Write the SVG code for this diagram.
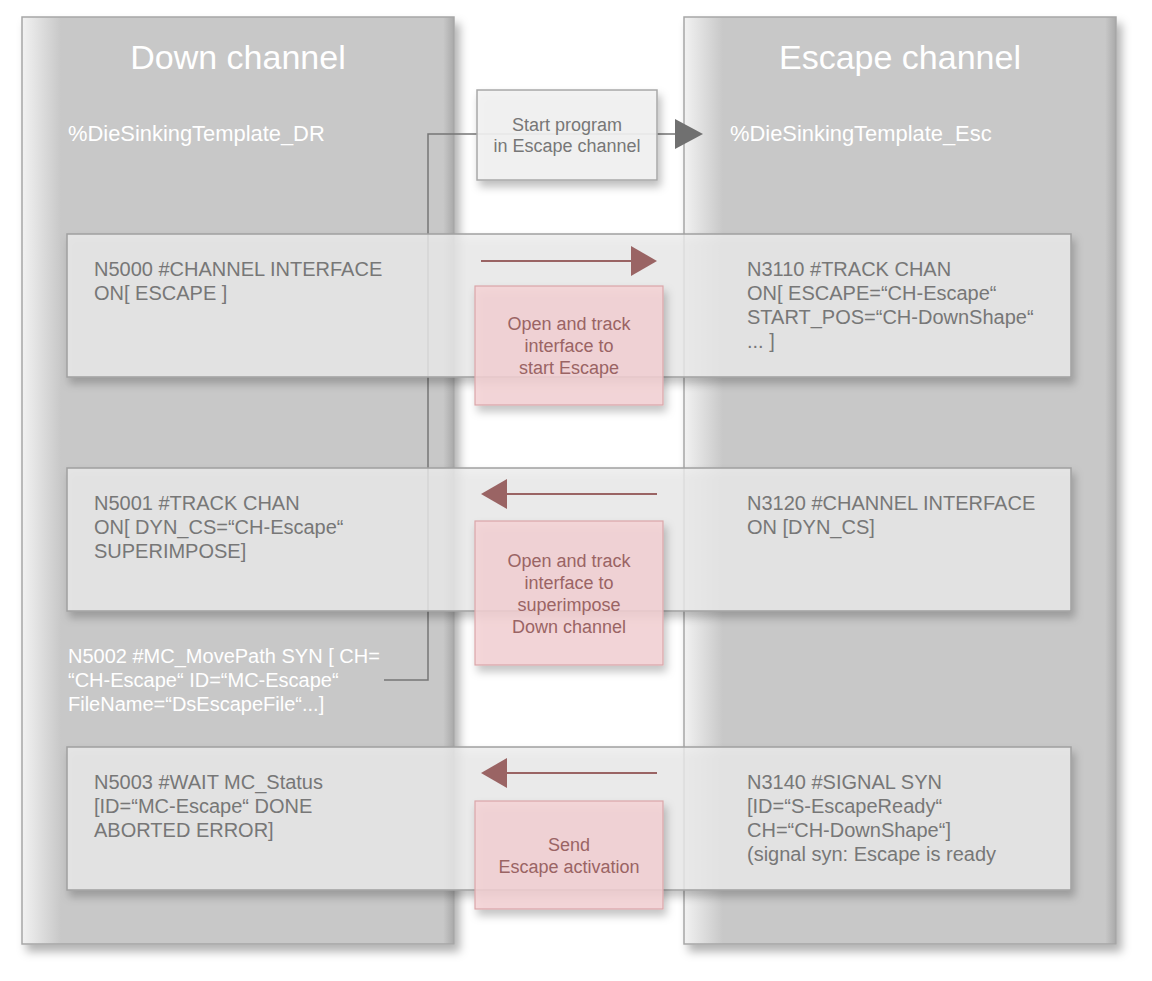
<svg xmlns="http://www.w3.org/2000/svg" width="1152" height="981" viewBox="0 0 1152 981">
<style>
text{font-family:"Liberation Sans",Arial,sans-serif}
.col{fill:url(#colgrad);stroke:#a6a6a6;stroke-width:1.5}
.title{font-size:34px;fill:#ffffff;text-anchor:middle}
.tmpl{font-size:21.9px;fill:#ffffff}
.row{fill:#ececec;fill-opacity:0.8;stroke:#a0a0a0;stroke-width:1.5}
.code{font-size:20px;fill:#777777}
.wcode{font-size:20px;fill:#ffffff}
.note{fill:#f5d2d4;fill-opacity:0.82;stroke:#dba6a8;stroke-width:1.2}
.ntext{font-size:18px;fill:#9a6464;text-anchor:middle}
.start{fill:#f2f2f2;fill-opacity:0.9;stroke:#a8a8a8;stroke-width:1.5}
.stext{font-size:18px;fill:#777777;text-anchor:middle}
.conn{fill:none;stroke:#757575;stroke-width:1.5}
.rarrow{stroke:#9a6464;stroke-width:2;fill:none}
.rhead{fill:#9a6464}
</style>
<defs>
<linearGradient id="colgrad" x1="0" y1="0" x2="1" y2="0">
<stop offset="0" stop-color="#f2f2f2"/>
<stop offset="0.09" stop-color="#c8c8c8"/>
<stop offset="0.975" stop-color="#c8c8c8"/>
<stop offset="1" stop-color="#a9a9a9"/>
</linearGradient>
<filter id="shadow" x="-10%" y="-10%" width="125%" height="125%">
<feDropShadow dx="5" dy="7" stdDeviation="5" flood-color="#000" flood-opacity="0.3"/>
</filter>
<filter id="shadow2" x="-10%" y="-10%" width="125%" height="130%">
<feDropShadow dx="3" dy="6" stdDeviation="4" flood-color="#000" flood-opacity="0.28"/>
</filter>
</defs>
<rect width="1152" height="981" fill="#ffffff"/>

<g id="down-channel">
<rect class="col" x="22" y="17" width="432" height="927" filter="url(#shadow)"/>
<text class="title" x="238" y="69">Down channel</text>
<text class="tmpl" x="68" y="141">%DieSinkingTemplate_DR</text>
</g>
<g id="escape-channel">
<rect class="col" x="684" y="17" width="432" height="927" filter="url(#shadow)"/>
<text class="title" x="900" y="69">Escape channel</text>
<text class="tmpl" x="730" y="141">%DieSinkingTemplate_Esc</text>
</g>

<g id="connectors">
<polyline class="conn" points="384,680 428,680 428,134 677,134"/>
<polygon fill="#707070" points="675,119 703,134 675,149"/>
</g>

<g id="start-box">
<rect class="start" x="477" y="90" width="180" height="90" filter="url(#shadow2)"/>
<text class="stext" x="567" y="131">Start program</text>
<text class="stext" x="567" y="152">in Escape channel</text>
</g>

<g id="row1">
<rect class="row" x="67" y="234" width="1004" height="143" filter="url(#shadow2)"/>
<text class="code" x="94" y="276">N5000 #CHANNEL INTERFACE</text>
<text class="code" x="94" y="300">ON[ ESCAPE ]</text>
<text class="code" x="747" y="276">N3110 #TRACK CHAN</text>
<text class="code" x="747" y="300">ON[ ESCAPE=“CH-Escape“</text>
<text class="code" x="747" y="324">START_POS=“CH-DownShape“</text>
<text class="code" x="747" y="348">... ]</text>
</g>

<g id="row2">
<rect class="row" x="67" y="468" width="1004" height="143" filter="url(#shadow2)"/>
<text class="code" x="94" y="510">N5001 #TRACK CHAN</text>
<text class="code" x="94" y="534">ON[ DYN_CS=“CH-Escape“</text>
<text class="code" x="94" y="558">SUPERIMPOSE]</text>
<text class="code" x="747" y="510">N3120 #CHANNEL INTERFACE</text>
<text class="code" x="747" y="534">ON [DYN_CS]</text>
</g>

<g id="movepath">
<text class="wcode" x="68" y="663">N5002 #MC_MovePath SYN [ CH=</text>
<text class="wcode" x="68" y="687">“CH-Escape“ ID=“MC-Escape“</text>
<text class="wcode" x="68" y="711">FileName=“DsEscapeFile“...]</text>
</g>

<g id="row3">
<rect class="row" x="67" y="747" width="1004" height="143" filter="url(#shadow2)"/>
<text class="code" x="94" y="789">N5003 #WAIT MC_Status</text>
<text class="code" x="94" y="813">[ID=“MC-Escape“ DONE</text>
<text class="code" x="94" y="837">ABORTED ERROR]</text>
<text class="code" x="747" y="789">N3140 #SIGNAL SYN</text>
<text class="code" x="747" y="813">[ID=“S-EscapeReady“</text>
<text class="code" x="747" y="837">CH=“CH-DownShape“]</text>
<text class="code" x="747" y="861">(signal syn: Escape is ready</text>
</g>

<g id="note1">
<rect class="note" x="475" y="286" width="188" height="119" filter="url(#shadow2)"/>
<text class="ntext" x="569" y="330">Open and track</text>
<text class="ntext" x="569" y="352">interface to</text>
<text class="ntext" x="569" y="374">start Escape</text>
</g>
<g id="note2">
<rect class="note" x="475" y="521" width="188" height="144" filter="url(#shadow2)"/>
<text class="ntext" x="569" y="567">Open and track</text>
<text class="ntext" x="569" y="589">interface to</text>
<text class="ntext" x="569" y="611">superimpose</text>
<text class="ntext" x="569" y="633">Down channel</text>
</g>
<g id="note3">
<rect class="note" x="475" y="801" width="188" height="108" filter="url(#shadow2)"/>
<text class="ntext" x="569" y="851">Send</text>
<text class="ntext" x="569" y="873">Escape activation</text>
</g>

<g id="arrows">
<line class="rarrow" x1="481" y1="261" x2="633" y2="261"/>
<polygon class="rhead" points="631,246 657,261 631,276"/>
<line class="rarrow" x1="657" y1="494" x2="505" y2="494"/>
<polygon class="rhead" points="507,479 481,494 507,509"/>
<line class="rarrow" x1="657" y1="773" x2="505" y2="773"/>
<polygon class="rhead" points="507,758 481,773 507,788"/>
</g>
</svg>
